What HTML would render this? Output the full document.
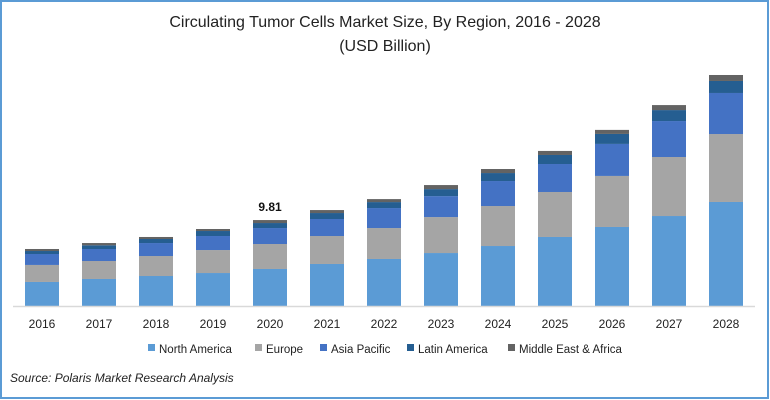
<!DOCTYPE html>
<html><head><meta charset="utf-8"><style>
body{margin:0;background:#fff;}
svg{display:block;font-family:"Liberation Sans",sans-serif;}
</style></head><body>
<svg id="chart" width="770" height="400">
<rect x="1" y="1" width="767" height="397" fill="#fff" stroke="#5b9bd5" stroke-width="2"/>
<text x="385" y="27" text-anchor="middle" font-size="16" fill="#222">Circulating Tumor Cells Market Size, By Region, 2016 - 2028</text>
<text x="385" y="51" text-anchor="middle" font-size="16" fill="#222">(USD Billion)</text>
<g id="bars"></g>
<line x1="13" y1="306.5" x2="755" y2="306.5" stroke="#d9d9d9" stroke-width="1.5"/>
<g id="xlabels"></g>
<g id="legend"></g>
<text x="10" y="382" font-size="12" font-style="italic" fill="#222">Source: Polaris Market Research Analysis</text>
</svg>
<script>
const years=["2016","2017","2018","2019","2020","2021","2022","2023","2024","2025","2026","2027","2028"];
const northAmerica=[2.74,3.08,3.42,3.76,4.22,4.79,5.36,6.04,6.84,7.87,9.01,10.26,11.86];
const europe=[1.94,2.05,2.28,2.62,2.85,3.19,3.53,4.10,4.56,5.13,5.82,6.73,7.75];
const asiaPacific=[1.25,1.37,1.48,1.60,1.82,1.94,2.28,2.39,2.85,3.19,3.65,4.10,4.68];
const latinAmerica=[0.34,0.42,0.46,0.57,0.57,0.68,0.68,0.80,0.91,1.03,1.14,1.25,1.37];
const middleEast=[0.23,0.26,0.23,0.23,0.34,0.34,0.34,0.46,0.46,0.46,0.46,0.57,0.68];
const seriesNames=["North America","Europe","Asia Pacific","Latin America","Middle East & Africa"];
const annotatedYear="2020";
const annotatedLabel="9.81";

const NS="http://www.w3.org/2000/svg";
const series=[northAmerica,europe,asiaPacific,latinAmerica,middleEast];
const colors=["#5b9bd5","#a5a5a5","#4472c4","#255e91","#636363"];
const baseY=306, pxPerUnit=8.77, x0=25, pitch=57.0, bw=34;
const yScale=v=>v*pxPerUnit;
const xScale=i=>x0+i*pitch;
const bars=document.getElementById('bars');
const xl=document.getElementById('xlabels');
years.forEach((yr,i)=>{
  let y=baseY;
  series.forEach((s,k)=>{
    const h=yScale(s[i]);
    y-=h;
    const r=document.createElementNS(NS,'rect');
    r.setAttribute('x',xScale(i));r.setAttribute('y',y);
    r.setAttribute('width',bw);r.setAttribute('height',h);
    r.setAttribute('fill',colors[k]);
    
    
    bars.appendChild(r);
  });
  if(yr===annotatedYear){
    const t=document.createElementNS(NS,'text');
    t.setAttribute('x',xScale(i)+bw/2);t.setAttribute('y',y-9);
    t.setAttribute('text-anchor','middle');t.setAttribute('font-size','12');
    t.setAttribute('font-weight','bold');t.setAttribute('fill','#111');
    t.textContent=annotatedLabel;
    
    
    bars.appendChild(t);
  }
  const t=document.createElementNS(NS,'text');
  t.setAttribute('x',xScale(i)+bw/2);t.setAttribute('y',328);
  t.setAttribute('text-anchor','middle');t.setAttribute('font-size','12');t.setAttribute('fill','#222');
  t.textContent=yr;
  
  
  xl.appendChild(t);
});
const lg=document.getElementById('legend');
const lx=[148,255,320,407,508];
seriesNames.forEach((n,k)=>{
  const g=document.createElementNS(NS,'g');
  
  
  const r=document.createElementNS(NS,'rect');
  r.setAttribute('x',lx[k]);r.setAttribute('y',344);r.setAttribute('width',7);r.setAttribute('height',7);
  r.setAttribute('fill',colors[k]);
  const t=document.createElementNS(NS,'text');
  t.setAttribute('x',lx[k]+11);t.setAttribute('y',353);t.setAttribute('font-size','11.5');t.setAttribute('fill','#222');
  t.textContent=n;
  g.appendChild(r);g.appendChild(t);lg.appendChild(g);
});
</script>
</body></html>
